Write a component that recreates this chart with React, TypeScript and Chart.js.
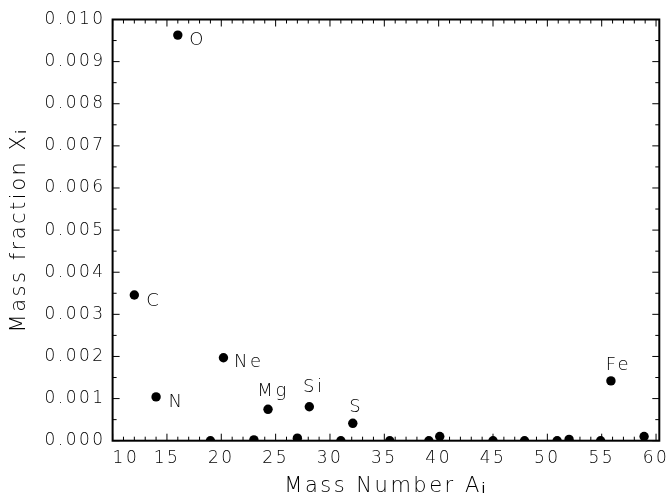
import React, { useEffect, useRef } from 'react';
import { Chart, registerables } from 'chart.js';

Chart.register(...registerables);

// Labelled elements
const elementNames = ['C', 'N', 'O', 'Ne', 'Mg', 'Si', 'S', 'Fe'];
const elementMass = [12.0, 14.0, 16.0, 20.2, 24.3, 28.1, 32.1, 55.85];
const elementFraction = [0.00346, 0.00104, 0.00963, 0.00197, 0.000745, 0.000807, 0.000413, 0.00142];

// Unlabelled trace elements near zero
const traceMass = [19.0, 23.0, 27.0, 31.0, 35.5, 39.1, 40.1, 45.0, 47.9, 50.9, 52.0, 54.9, 58.9];
const traceFraction = [0, 0.00002, 0.00006, 0, 0, 0, 0.0001, 0, 0, 0, 0.00003, 0, 0.0001];

// Axis ticks
const xTicks = [10, 15, 20, 25, 30, 35, 40, 45, 50, 55, 60];
const yTicks = [0, 0.001, 0.002, 0.003, 0.004, 0.005, 0.006, 0.007, 0.008, 0.009, 0.01];

const FONT = "'DejaVu Sans', 'Liberation Sans', sans-serif";
const WEIGHT = 200;
const SPACING = '2.5px';

// label placement relative to the point (style, not data)
const labelPlacement: Record<string, { align: CanvasTextAlign; dx: number; dy: number }> = {
  C: { align: 'left', dx: 12, dy: 11.5 },
  N: { align: 'left', dx: 12.5, dy: 10.5 },
  O: { align: 'left', dx: 11.5, dy: 10 },
  Ne: { align: 'left', dx: 10.5, dy: 9 },
  Mg: { align: 'center', dx: 5, dy: -13.5 },
  Si: { align: 'center', dx: 4.5, dy: -15 },
  S: { align: 'center', dx: 3.5, dy: -11.5 },
  Fe: { align: 'center', dx: 7.5, dy: -11 },
};

const framePlugin = {
  id: 'framePlugin',
  beforeUpdate(chart: any) {
    chart.ctx.letterSpacing = SPACING;
  },
  beforeDraw(chart: any) {
    const ctx = chart.ctx;
    ctx.letterSpacing = SPACING;
    ctx.save();
    ctx.fillStyle = '#fff';
    ctx.fillRect(0, 0, chart.width, chart.height);
    ctx.restore();
  },
  afterDatasetsDraw(chart: any) {
    const ctx = chart.ctx;
    const { left, right, top, bottom } = chart.chartArea;
    const xs = chart.scales.x;
    const ys = chart.scales.y;
    ctx.save();
    ctx.strokeStyle = '#000';
    ctx.lineWidth = 1;
    ctx.beginPath();
    const major = 7;
    const minor = 4;
    for (let v = 10; v <= 60.0001; v += 1) {
      const px = xs.getPixelForValue(v);
      const len = xTicks.some((t) => Math.abs(t - v) < 1e-6) ? major : minor;
      ctx.moveTo(px, bottom);
      ctx.lineTo(px, bottom - len);
      ctx.moveTo(px, top);
      ctx.lineTo(px, top + len);
    }
    for (let i = 0; i <= 20; i++) {
      const v = i * 0.0005;
      const py = ys.getPixelForValue(v);
      const len = i % 2 === 0 ? major : minor;
      ctx.moveTo(left, py);
      ctx.lineTo(left + len, py);
      ctx.moveTo(right, py);
      ctx.lineTo(right - len, py);
    }
    ctx.stroke();
    ctx.lineWidth = 2;
    ctx.strokeRect(left, top, right - left, bottom - top);

    // element labels
    const meta = chart.getDatasetMeta(0);
    ctx.fillStyle = '#000';
    ctx.font = `${WEIGHT} 18px ${FONT}`;
    ctx.textBaseline = 'alphabetic';
    meta.data.forEach((pt: any, i: number) => {
      const name = elementNames[i];
      const p = labelPlacement[name];
      ctx.textAlign = p.align;
      ctx.fillText(name, pt.x + p.dx, pt.y + p.dy);
    });
    ctx.restore();
  },
};

export default function App() {
  const ref = useRef<HTMLCanvasElement>(null);

  useEffect(() => {
    if (!ref.current) return;
    const chart = new Chart(ref.current, {
      type: 'scatter',
      data: {
        datasets: [
          {
            data: elementMass.map((m, i) => ({ x: m, y: elementFraction[i] })),
            backgroundColor: '#000',
            borderWidth: 0,
            pointRadius: 4.7,
          },
          {
            data: traceMass.map((m, i) => ({ x: m, y: traceFraction[i] })),
            backgroundColor: '#000',
            borderWidth: 0,
            pointRadius: 4.7,
          },
        ],
      },
      options: {
        animation: false,
        responsive: false,
        devicePixelRatio: 1,
        layout: { padding: { left: 0, top: 19.5, right: 11.7, bottom: 0 } },
        plugins: {
          legend: { display: false },
          tooltip: { enabled: false },
        },
        scales: {
          x: {
            type: 'linear',
            min: 10,
            max: 60.3,
            afterBuildTicks: (s: any) => {
              s.ticks = xTicks.map((v) => ({ value: v }));
            },
            afterFit: (s: any) => {
              s.height = 62.3;
              s.paddingLeft = 0;
              s.paddingRight = 0;
            },
            grid: { display: false, drawTicks: false },
            border: { display: false },
            ticks: {
              padding: 8,
              color: '#000',
              maxRotation: 0,
              autoSkip: false,
              font: { family: FONT, size: 17, weight: WEIGHT },
              callback: (v: any) => (Number(v) === 10 ? '\u2007\u2007' + String(v) : String(v)),
            },
            title: {
              display: true,
              text: 'Mass Number A\u1d62',
              color: '#000',
              font: { family: FONT, size: 21, weight: WEIGHT },
              padding: { top: 0, bottom: 4 },
            },
          },
          y: {
            type: 'linear',
            min: 0,
            max: 0.01,
            afterBuildTicks: (s: any) => {
              s.ticks = yTicks.map((v) => ({ value: v }));
            },
            afterFit: (s: any) => {
              s.width = 112.6;
              s.paddingTop = 0;
              s.paddingBottom = 0;
            },
            grid: { display: false, drawTicks: false },
            border: { display: false },
            ticks: {
              padding: 7,
              color: '#000',
              autoSkip: false,
              font: { family: FONT, size: 17, weight: WEIGHT },
              callback: (v: any) => Number(v).toFixed(3),
            },
            title: {
              display: true,
              text: 'Mass fraction X\u1d62',
              color: '#000',
              font: { family: FONT, size: 21, weight: WEIGHT },
              padding: { top: 6.7, bottom: 0 },
            },
          },
        },
      },
      plugins: [framePlugin],
    } as any);
    return () => chart.destroy();
  }, []);

  return (
    <div style={{ position: 'fixed', left: 0, top: 0, width: 671, height: 503, background: '#fff' }}>
      <canvas ref={ref} width={671} height={503} style={{ display: 'block', width: 671, height: 503 }} />
    </div>
  );
}
